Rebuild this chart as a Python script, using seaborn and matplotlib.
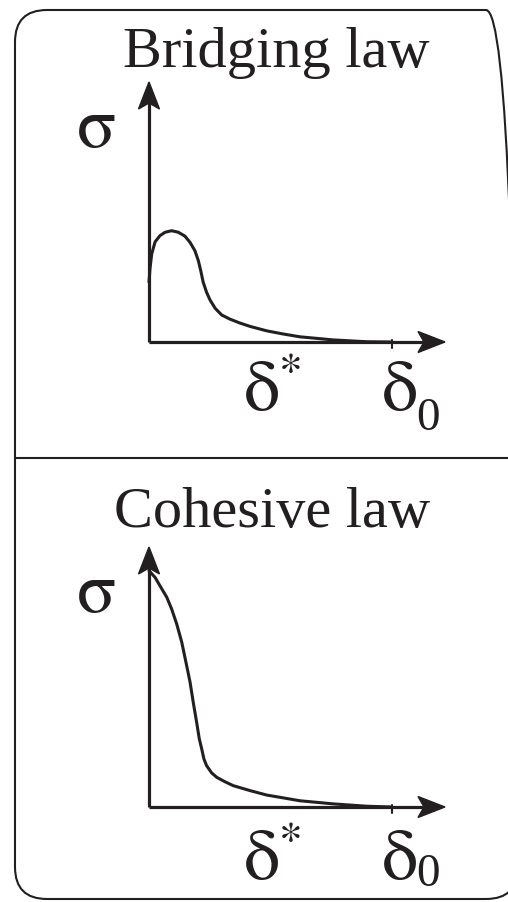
import pandas as pd
import seaborn as sns
import matplotlib.pyplot as plt
from matplotlib.patches import FancyBboxPatch, Polygon
from matplotlib.lines import Line2D

# Opening displacement (normalised by delta_0) and traction (normalised by axis height)
bridging_delta = [0.000, 0.004, 0.011, 0.025, 0.045, 0.066, 0.093, 0.121, 0.148, 0.169,
                  0.189, 0.203, 0.213, 0.223, 0.237, 0.251, 0.272, 0.299, 0.333, 0.374,
                  0.416, 0.484, 0.551, 0.621, 0.758, 0.896, 1.000]
bridging_sigma = [0.230, 0.281, 0.338, 0.385, 0.409, 0.422, 0.428, 0.422, 0.407, 0.383,
                  0.351, 0.313, 0.274, 0.230, 0.191, 0.162, 0.130, 0.104, 0.088, 0.073,
                  0.060, 0.043, 0.031, 0.020, 0.008, 0.001, 0.000]

cohesive_delta = [0.000, 0.025, 0.045, 0.073, 0.093, 0.114, 0.135, 0.152, 0.169, 0.182,
                  0.196, 0.207, 0.217, 0.226, 0.237, 0.258, 0.279, 0.313, 0.347, 0.416,
                  0.484, 0.553, 0.621, 0.758, 0.896, 1.000]
cohesive_sigma = [0.909, 0.883, 0.851, 0.807, 0.762, 0.704, 0.633, 0.557, 0.480, 0.403,
                  0.326, 0.262, 0.223, 0.185, 0.159, 0.131, 0.114, 0.097, 0.082, 0.063,
                  0.046, 0.035, 0.024, 0.012, 0.003, 0.000]

panel_titles = ["Bridging law", "Cohesive law"]
y_label = "σ"
delta_symbol = "δ"
star_mark = "*"
zero_sub = "0"
delta0_position = 1.0

W, H = 508, 903
INK = "#231f20"
XMAX = 296 / 243  # axis extends past delta_0
GREEK = ["STIXGeneral", "DejaVu Serif"]

sns.set_theme(style="white")
plt.rcParams["font.family"] = ["Liberation Serif", "DejaVu Serif"]

fig = plt.figure(figsize=(W / 100, H / 100), dpi=100)
fig.patch.set_facecolor("white")


def fx(x):
    return x / W


def fy(y):
    return 1 - y / H


# rounded outer frame (runs past the right edge) and divider
frame = FancyBboxPatch((fx(15), fy(900)), fx(503), 889 / H,
                       boxstyle="round,pad=0,rounding_size=%f" % (32 / W),
                       mutation_aspect=W / H,
                       transform=fig.transFigure, fill=False,
                       edgecolor=INK, linewidth=1.5)
fig.add_artist(frame)
fig.add_artist(Line2D([fx(15), fx(508)], [fy(459), fy(459)],
                      transform=fig.transFigure, color=INK, linewidth=1.5))


def draw_panel(origin_y, delta, sigma, title, title_x, title_base, d_base, sub_base):
    ax = fig.add_axes([fx(149), fy(origin_y), 296 / W, 260 / H])
    ax.set_xlim(0, XMAX)
    ax.set_ylim(0, 1)
    ax.set_axis_off()

    df = pd.DataFrame({"delta": delta, "sigma": sigma})
    sns.lineplot(data=df, x="delta", y="sigma", sort=False, ax=ax,
                 color=INK, linewidth=2.2, clip_on=False,
                 solid_capstyle="round", solid_joinstyle="round")

    # axes with arrow heads
    ax.plot([0, 1 - 20 / 296], [0, 0], transform=ax.transAxes, color=INK,
            linewidth=2.3, clip_on=False, solid_capstyle="butt")
    ax.plot([0, 0], [0, 1 - 20 / 260], transform=ax.transAxes, color=INK,
            linewidth=2.3, clip_on=False, solid_capstyle="butt")
    L, hw, notch = 27, 10.5, 6
    xa = Polygon([(1, 0), (1 - L / 296, hw / 260), (1 - (L - notch) / 296, 0),
                  (1 - L / 296, -hw / 260)], closed=True,
                 transform=ax.transAxes, color=INK, clip_on=False)
    ya = Polygon([(0, 1), (hw / 296, 1 - L / 260), (0, 1 - (L - notch) / 260),
                  (-hw / 296, 1 - L / 260)], closed=True,
                 transform=ax.transAxes, color=INK, clip_on=False)
    ax.add_patch(xa)
    ax.add_patch(ya)

    # tick at delta_0
    ax.plot([delta0_position, delta0_position], [-6 / 260, 2 / 260], color=INK,
            linewidth=1.5, clip_on=False)

    fig.text(fx(title_x), fy(title_base), title, ha="center", va="baseline",
             fontsize=42, color=INK)
    fig.text(fx(97), fy(origin_y - 196), y_label, ha="center", va="baseline",
             fontsize=52, color=INK, family=GREEK)
    # delta* label
    fig.text(fx(244), fy(d_base), delta_symbol, ha="left", va="baseline",
             fontsize=52, color=INK, family=GREEK)
    fig.text(fx(279), fy(d_base - 24), star_mark, ha="left", va="baseline",
             fontsize=34, color=INK, family=GREEK)
    # delta_0 label
    fig.text(fx(382), fy(d_base), delta_symbol, ha="left", va="baseline",
             fontsize=52, color=INK, family=GREEK)
    fig.text(fx(416), fy(sub_base), zero_sub, ha="left", va="baseline",
             fontsize=34, color=INK)
    return ax


draw_panel(343, bridging_delta, bridging_sigma, panel_titles[0], 276, 67, 410, 430)
draw_panel(808, cohesive_delta, cohesive_sigma, panel_titles[1], 272, 527, 879, 886)

fig.savefig("out.png", dpi=100, facecolor="white")
